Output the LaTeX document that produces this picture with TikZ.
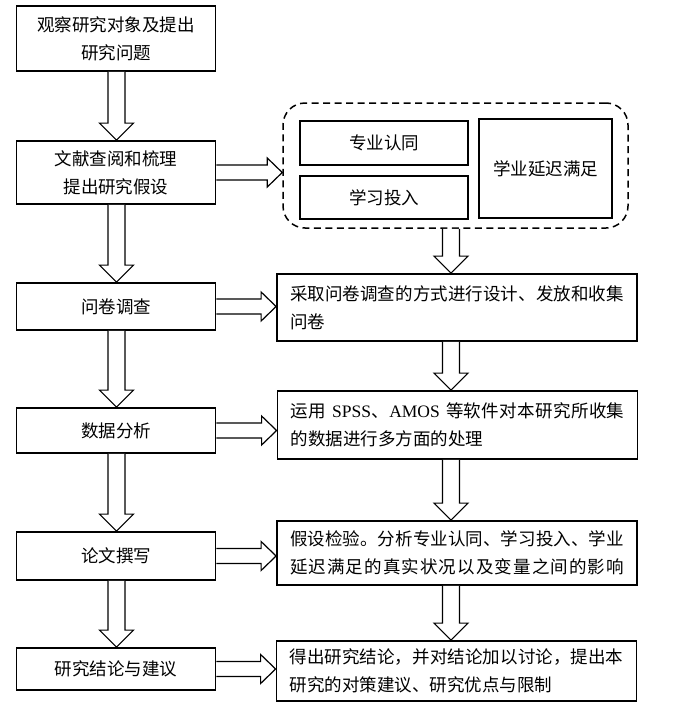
\documentclass[tikz,border=0pt]{standalone}
\usepackage{fontspec}
\setmainfont{Noto Sans CJK SC}
\newfontfamily\lat{Liberation Serif}
\usetikzlibrary{calc}
\def\spA#1{{#1}\spB}
\def\spB#1{\ifx\relax#1\else\hfil{#1}\expandafter\spB\fi}
\newcommand\jline[1]{\makebox[\linewidth][s]{\spA#1\relax}}
\newcommand\vblk[3]{%
  \draw[blk] let \p1=(#1.south), \p2=(#2.north) in
    (#3-8.5,\y1) -- (#3-8.5,\y2+17) -- (#3-17,\y2+17) -- (#3,\y2)
    -- (#3+17,\y2+17) -- (#3+8.5,\y2+17) -- (#3+8.5,\y1);}
\newcommand\hblk[2]{%
  \draw[blk] let \p1=(#1.east), \p2=(#2.west) in
    (\x1,\y1+7.5) -- (\x2-15,\y1+7.5) -- (\x2-15,\y1+14.5) -- (\x2,\y1)
    -- (\x2-15,\y1-14.5) -- (\x2-15,\y1-7.5) -- (\x1,\y1-7.5);}
\begin{document}
\begin{tikzpicture}[x=1pt,y=1pt,
  box/.style={draw, line width=1.8pt, fill=white, inner sep=0pt,
    font=\fontsize{17.5}{28}\selectfont, align=center},
  rbox/.style={box, align=left, text width=334pt, minimum width=360pt},
  lbox/.style={box, minimum width=199pt},
  blk/.style={draw, fill=white, line width=1.2pt, line join=miter}]
\useasboundingbox (0,0) rectangle (674,-707);
% left column
\node[lbox, minimum height=65pt] (b1) at (116,-38.5) {观察研究对象及提出\\研究问题};
\node[lbox, minimum height=63pt] (b2) at (116,-172.5) {文献查阅和梳理\\提出研究假设};
\node[lbox, minimum height=47pt] (b3) at (116,-306.5) {问卷调查};
\node[lbox, minimum height=45pt] (b4) at (116,-430.5) {数据分析};
\node[lbox, minimum height=48pt] (b5) at (116,-556) {论文撰写};
\node[lbox, minimum height=42pt] (b6) at (116,-669) {研究结论与建议};
% group
\node[draw, line width=1.5pt, dash pattern=on 7pt off 4.5pt, rounded corners=22pt,
  minimum width=345pt, minimum height=125pt, inner sep=0pt] (grp) at (455.5,-165.5) {};
\node[box, minimum width=168pt, minimum height=44pt] (g1) at (384,-143) {专业认同};
\node[box, minimum width=168pt, minimum height=43pt] (g2) at (384,-197.5) {学习投入};
\node[box, minimum width=133pt, minimum height=99pt] (g3) at (545.5,-168.5) {学业延迟满足};
% right column
\node[rbox, minimum height=67pt] (r1) at (457,-307.5) {\jline{采取问卷调查的方式进行设计、发放和收集}\\问卷};
\node[rbox, minimum height=68pt] (r2) at (457.5,-425) {\jline{运用{\lat\ SPSS}、{\lat AMOS\ }等软件对本研究所收集}\\的数据进行多方面的处理};
\node[rbox, minimum height=64pt] (r3) at (457,-553) {\jline{假设检验。分析专业认同、学习投入、学业}\\\jline{延迟满足的真实状况以及变量之间的影响}};
\node[rbox, minimum height=60pt] (r4) at (456.5,-671) {\jline{得出研究结论，并对结论加以讨论，提出本}\\研究的对策建议、研究优点与限制};
% arrows
\vblk{b1}{b2}{116.5}
\vblk{b2}{b3}{116.5}
\vblk{b3}{b4}{116.5}
\vblk{b4}{b5}{116.5}
\vblk{b5}{b6}{116.5}
\vblk{grp}{r1}{451}
\vblk{r1}{r2}{451}
\vblk{r2}{r3}{451}
\vblk{r3}{r4}{451}
\hblk{b2}{grp}
\hblk{b3}{r1}
\hblk{b4}{r2}
\hblk{b5}{r3}
\hblk{b6}{r4}
\end{tikzpicture}
\end{document}
